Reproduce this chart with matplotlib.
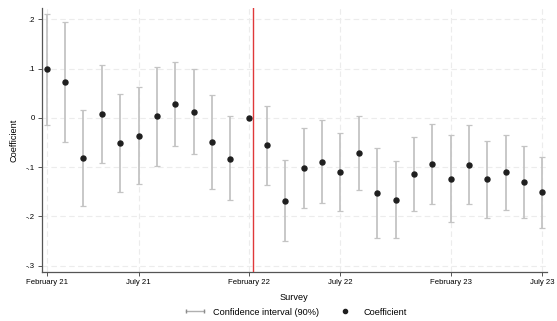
import numpy as np
import matplotlib
matplotlib.use("Agg")
import matplotlib.pyplot as plt
from matplotlib.lines import Line2D
from matplotlib.legend_handler import HandlerLine2D

plt.rcParams["font.family"] = ["Liberation Sans", "DejaVu Sans"]

# survey waves (index) and estimates
survey = np.arange(28)
coef = [0.099, 0.074, -0.081, 0.008, -0.051, -0.037, 0.003, 0.028, 0.013, -0.049,
        -0.083, 0.0, -0.056, -0.168, -0.102, -0.089, -0.110, -0.071, -0.153, -0.166,
        -0.114, -0.093, -0.124, -0.095, -0.125, -0.110, -0.131, -0.151]
ci_low = [-0.015, -0.048, -0.179, -0.091, -0.151, -0.135, -0.097, -0.057, -0.074, -0.145,
          -0.167, np.nan, -0.137, -0.251, -0.183, -0.172, -0.189, -0.146, -0.243, -0.244,
          -0.190, -0.174, -0.212, -0.175, -0.203, -0.187, -0.204, -0.223]
ci_high = [0.211, 0.195, 0.016, 0.107, 0.049, 0.062, 0.103, 0.113, 0.099, 0.046,
           0.003, np.nan, 0.024, -0.086, -0.020, -0.005, -0.031, 0.004, -0.061, -0.087,
           -0.038, -0.013, -0.035, -0.014, -0.047, -0.034, -0.058, -0.079]
tick_pos = [0, 5, 11, 16, 22, 27]
tick_labels = ["February 21", "July 21", "February 22", "July 22", "February 23", "July 23"]
y_ticks = [0.2, 0.1, 0.0, -0.1, -0.2, -0.3]
y_labels = [".2", ".1", "0", "-.1", "-.2", "-.3"]
event = 11.25

fig = plt.figure(figsize=(5.57, 3.21), dpi=100)
ax = fig.add_axes([0.075, 0.153, 0.907, 0.822])

coef = np.array(coef)
lo = np.array(ci_low)
hi = np.array(ci_high)
ok = ~np.isnan(lo)
eb = ax.errorbar(survey[ok], coef[ok], yerr=[coef[ok] - lo[ok], hi[ok] - coef[ok]],
                 fmt="none", ecolor="#c4c4c4", elinewidth=1.3, capsize=2.2,
                 capthick=0.9, zorder=2)
for cl in eb[1]:
    cl.set_color("#8c8c8c")
ax.plot(survey, coef, "o", color="#1f1f1f", markersize=3.6, zorder=3)

ax.axvline(event, color="#e0383a", lw=1.0, zorder=4)

ax.set_xlim(-0.27, 27.25)
ax.set_ylim(-0.3128, 0.2233)
ax.set_xticks(tick_pos)
ax.set_xticklabels(tick_labels)
ax.set_yticks(y_ticks)
ax.set_yticklabels(y_labels)
ax.grid(True, ls=(0, (5, 3)), color="#ececec", lw=0.8, zorder=0)
ax.set_axisbelow(True)
ax.tick_params(labelsize=5.6, length=3, width=0.7, color="#555555", pad=2)
for s in ["top", "right"]:
    ax.spines[s].set_visible(False)
for s in ["left", "bottom"]:
    ax.spines[s].set_color("#555555")
    ax.spines[s].set_linewidth(0.9)

ax.set_ylabel("Coefficient", fontsize=6.6, labelpad=5)
ax.set_xlabel("Survey", fontsize=6.6, labelpad=5)

h_ci = Line2D([], [], color="#b0b0b0", lw=1.0, marker="|", markersize=2.5,
              markeredgecolor="#8c8c8c")
h_pt = Line2D([], [], ls="none", marker="o", color="#1f1f1f", markersize=3)
fig.legend([h_ci, h_pt], ["Confidence interval (90%)", "Coefficient"],
           handler_map={h_ci: HandlerLine2D(numpoints=2)},
           loc="center", bbox_to_anchor=(0.53, 0.028), ncol=2, frameon=False,
           fontsize=6.6, handlelength=2.5, columnspacing=1.6, handletextpad=0.75)

fig.savefig("out.png", dpi=100)
